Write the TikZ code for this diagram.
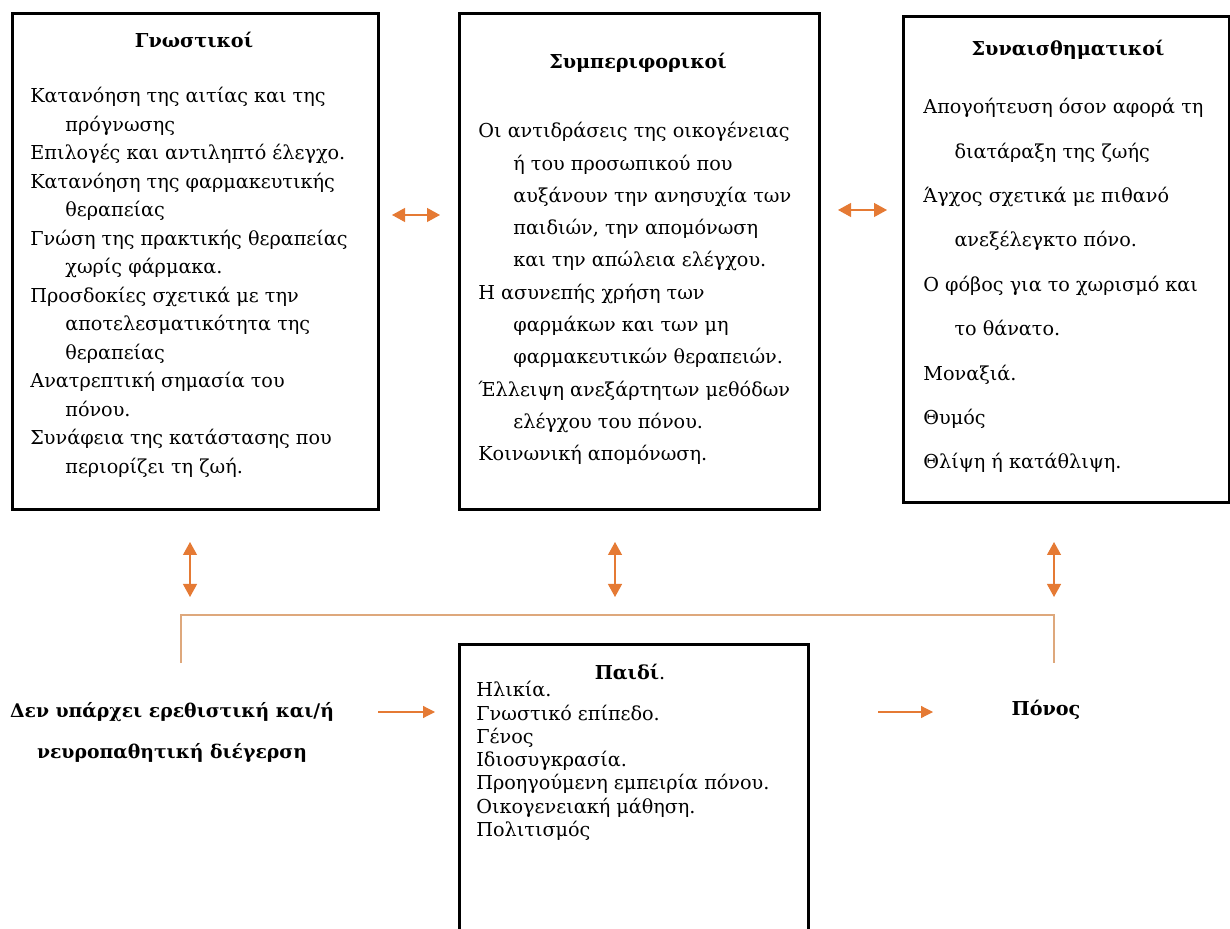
\documentclass[tikz,border=0pt]{standalone}
\usepackage{fontspec}
\setmainfont{DejaVu Serif}
\usetikzlibrary{arrows.meta,positioning}
\definecolor{arroworange}{RGB}{229,122,52}
\definecolor{linktan}{RGB}{222,168,124}
\newcommand{\contline}[1][17.5pt]{\hspace*{#1}}
\tikzstyle{pain}=[
  x=0.5pt,y=-0.5pt,font=\fontsize{9.6}{14.25}\selectfont
]
\tikzstyle{factorbox}=[
  draw,line width=1.3pt,anchor=north west,inner sep=0pt
]
\tikzstyle{boxtitle}=[
  font=\fontsize{9.6}{12}\selectfont\bfseries,inner sep=0pt
]
\tikzstyle{boxlist}=[
  anchor=north west,align=left,inner sep=0pt
]
\tikzstyle{twoway}=[
  {Triangle[width=7pt,length=6.5pt]}-{Triangle[width=7pt,length=6.5pt]},
  arroworange,line width=0.6pt
]
\tikzstyle{oneway}=[
  -{Triangle[width=6pt,length=6pt]},arroworange,line width=0.6pt
]
\tikzstyle{link}=[
  linktan,line width=0.7pt
]
\begin{document}
\begin{tikzpicture}[pain]
  \useasboundingbox (0,0) rectangle (1230,929);
  % the three groups of factors
  \node (gno) at (11,12) [factorbox,minimum width=183pt,minimum height=248pt] {};
  \node (beh) at (458,12) [factorbox,minimum width=180pt,minimum height=248pt] {};
  \node (emo) at (902,15) [factorbox,minimum width=163pt,minimum height=243pt] {};
  \node (gnotitle) at (194,40) [boxtitle] {Γνωστικοί};
  \node (behtitle) at (638,63) [boxtitle] {Συμπεριφορικοί};
  \node (emotitle) at (1068,50) [boxtitle] {Συναισθηματικοί};
  \node (gnolist) at (30,87) [boxlist] {Κατανόηση της αιτίας και της\\
    \contline πρόγνωσης\\
    Επιλογές και αντιληπτό έλεγχο.\\
    Κατανόηση της φαρμακευτικής\\
    \contline θεραπείας\\
    Γνώση της πρακτικής θεραπείας\\
    \contline χωρίς φάρμακα.\\
    Προσδοκίες σχετικά με την\\
    \contline αποτελεσματικότητα της\\
    \contline θεραπείας\\
    Ανατρεπτική σημασία του\\
    \contline πόνου.\\
    Συνάφεια της κατάστασης που\\
    \contline περιορίζει τη ζωή.};
  \node (behlist) at (478,122) [boxlist,font=\fontsize{9.6}{16.15}\selectfont] {Οι αντιδράσεις της οικογένειας\\
    \contline ή του προσωπικού που\\
    \contline αυξάνουν την ανησυχία των\\
    \contline παιδιών, την απομόνωση\\
    \contline και την απώλεια ελέγχου.\\
    Η ασυνεπής χρήση των\\
    \contline φαρμάκων και των μη\\
    \contline φαρμακευτικών θεραπειών.\\
    Έλλειψη ανεξάρτητων μεθόδων\\
    \contline ελέγχου του πόνου.\\
    Κοινωνική απομόνωση.};
  \node (emolist) at (923,98) [boxlist,font=\fontsize{9.6}{22.2}\selectfont] {Απογοήτευση όσον αφορά τη\\
    \contline[12.5pt] διατάραξη της ζωής\\
    Άγχος σχετικά με πιθανό\\
    \contline[12.5pt] ανεξέλεγκτο πόνο.\\
    Ο φόβος για το χωρισμό και\\
    \contline[12.5pt] το θάνατο.\\
    Μοναξιά.\\
    Θυμός\\
    Θλίψη ή κατάθλιψη.};
  % the child
  \node (child) at (458,643) [factorbox,minimum width=174.5pt,minimum height=160pt] {};
  \node (childtitle) at (630,672) [boxtitle] {Παιδί{\mdseries .}};
  \node (childlist) at (476,681) [boxlist,font=\fontsize{9.6}{11.65}\selectfont] {Ηλικία.\\
    Γνωστικό επίπεδο.\\
    Γένος\\
    Ιδιοσυγκρασία.\\
    Προηγούμενη εμπειρία πόνου.\\
    Οικογενειακή μάθηση.\\
    Πολιτισμός};
  \node (stimulus) at (172,732) [align=center,font=\fontsize{9.4}{20.5}\selectfont\bfseries] {Δεν υπάρχει ερεθιστική και/ή\\
    νευροπαθητική διέγερση};
  \node (pain) at (1046,710) [boxtitle] {Πόνος};
  % arrows
  \coordinate (ga) at (392,215);
  \coordinate (gb) at (440,215);
  \coordinate (ea) at (838,210);
  \coordinate (eb) at (887,210);
  \draw [twoway] (ga) -- (gb);
  \draw [twoway] (ea) -- (eb);
  \coordinate (v1a) at (190,542);
  \coordinate (v1b) at (190,597);
  \coordinate (v2a) at (615,542);
  \coordinate (v2b) at (615,597);
  \coordinate (v3a) at (1054,542);
  \coordinate (v3b) at (1054,597);
  \draw [twoway] (v1a) -- (v1b);
  \draw [twoway] (v2a) -- (v2b);
  \draw [twoway] (v3a) -- (v3b);
  \coordinate (la) at (181,663);
  \coordinate (lb) at (1054,663);
  \draw [link] (la) -- (181,615) -- (1054,615) -- (lb);
  \coordinate (sa) at (378,712);
  \coordinate (sb) at (435,712);
  \coordinate (pa) at (878,712);
  \coordinate (pb) at (933,712);
  \draw [oneway] (sa) -- (sb);
  \draw [oneway] (pa) -- (pb);
\end{tikzpicture}
\end{document}
